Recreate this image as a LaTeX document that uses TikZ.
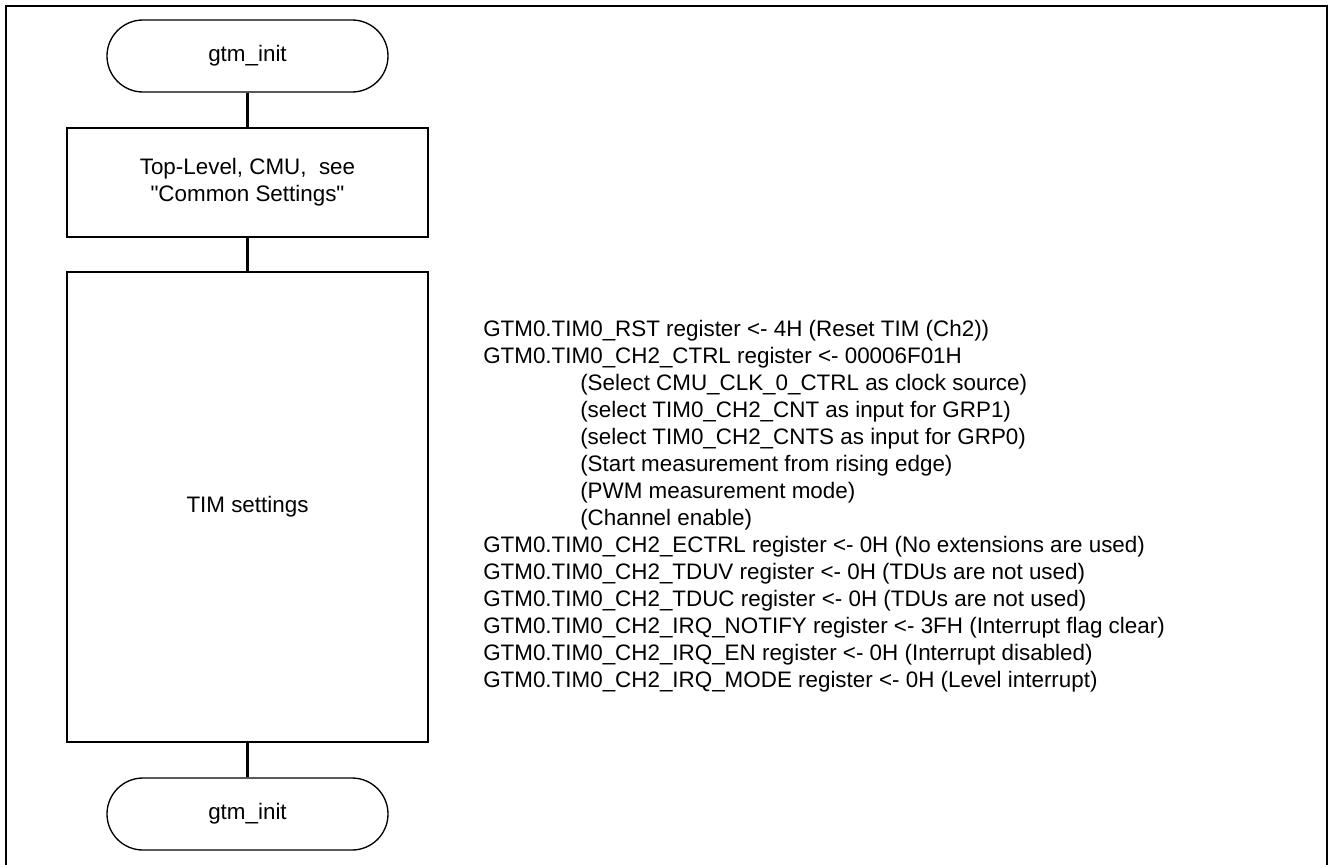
\documentclass[tikz,border=0pt]{standalone}
\usepackage{fontspec}
\setmainfont{Liberation Sans}
\usetikzlibrary{positioning}

\begin{document}
\begin{tikzpicture}[x=0.75pt, y=-0.75pt,
    every node/.style={font=\fontsize{16.8}{20.25}\selectfont},
    terminal/.style={draw, line width=1pt, rounded corners=27pt,
        minimum width=210.75pt, minimum height=54pt, inner sep=0pt},
    procbox/.style={draw, line width=1.3pt, minimum width=270.75pt,
        align=center, inner sep=0pt},
    flowline/.style={line width=2.2pt}]

    \useasboundingbox (0,0) rectangle (1328,864);

    % outer frame
    \draw[line width=1.5pt] (6,6) rectangle (1327,870);

    % flow chart
    \node[terminal] (start) at (247.5,56) {gtm\_init};
    \node[procbox, minimum height=81.75pt] (common) at (247.5,182.5)
        {Top-Level, CMU,~ see\\\textquotedbl Common Settings\textquotedbl};
    \node[procbox, minimum height=352.5pt] (tim) at (247.5,507) {TIM settings};
    \node[terminal] (stop) at (247.5,814) {gtm\_init};

    \draw[flowline] (start) -- (common);
    \draw[flowline] (common) -- (tim);
    \draw[flowline] (tim) -- (stop);

    % register settings
    \node[anchor=west, align=left, inner sep=0pt] (regs) at (483,506) {%
        GTM0.TIM0\_RST register <- 4H (Reset TIM (Ch2))\\
        GTM0.TIM0\_CH2\_CTRL register <- 00006F01H\\
        \hspace*{72.75pt}(Select CMU\_CLK\_0\_CTRL as clock source)\\
        \hspace*{72.75pt}(select TIM0\_CH2\_CNT as input for GRP1)\\
        \hspace*{72.75pt}(select TIM0\_CH2\_CNTS as input for GRP0)\\
        \hspace*{72.75pt}(Start measurement from rising edge)\\
        \hspace*{72.75pt}(PWM measurement mode)\\
        \hspace*{72.75pt}(Channel enable)\\
        GTM0.TIM0\_CH2\_ECTRL register <- 0H (No extensions are used)\\
        GTM0.TIM0\_CH2\_TDUV register <- 0H (TDUs are not used)\\
        GTM0.TIM0\_CH2\_TDUC register <- 0H (TDUs are not used)\\
        GTM0.TIM0\_CH2\_IRQ\_NOTIFY register <- 3FH (Interrupt flag clear)\\
        GTM0.TIM0\_CH2\_IRQ\_EN register <- 0H (Interrupt disabled)\\
        GTM0.TIM0\_CH2\_IRQ\_MODE register <- 0H (Level interrupt)};

\end{tikzpicture}
\end{document}
